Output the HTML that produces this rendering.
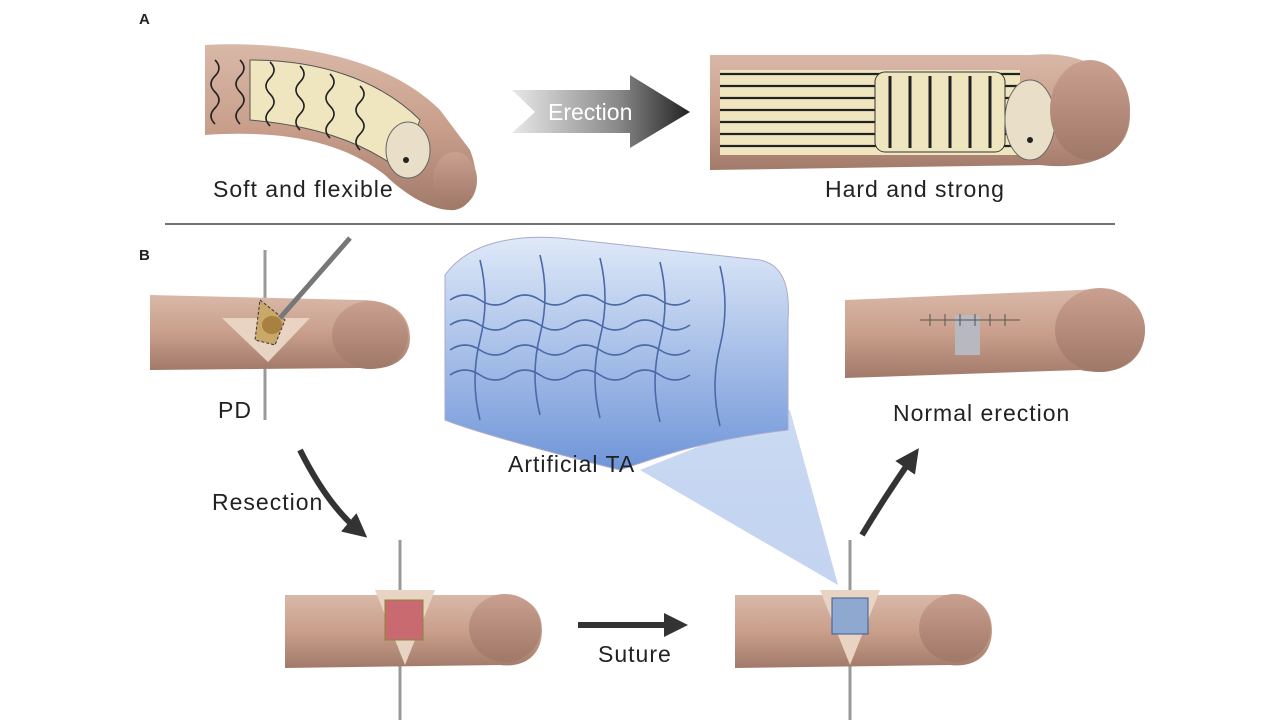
<!DOCTYPE html>
<html><head><meta charset="utf-8"><style>
html,body{margin:0;padding:0;background:#fff;}
svg{display:block;}
text{font-family:"Liberation Sans",sans-serif;fill:#222;}
.lb{font-size:23px;letter-spacing:1px;}
</style></head><body>
<svg width="1280" height="720" viewBox="0 0 1280 720" xmlns="http://www.w3.org/2000/svg">
<defs>
<linearGradient id="skin" x1="0" y1="0" x2="0" y2="1">
<stop offset="0" stop-color="#d9b8a8"/><stop offset="0.5" stop-color="#c99f8c"/><stop offset="1" stop-color="#a27a6a"/></linearGradient>
<linearGradient id="head" x1="0" y1="0" x2="0" y2="1">
<stop offset="0" stop-color="#caa090"/><stop offset="1" stop-color="#a07868"/></linearGradient>
<linearGradient id="arr" x1="0" y1="0" x2="1" y2="0">
<stop offset="0" stop-color="#e8e8e8"/><stop offset="0.6" stop-color="#888"/><stop offset="1" stop-color="#222"/></linearGradient>
<linearGradient id="blue" x1="0" y1="0" x2="0" y2="1">
<stop offset="0" stop-color="#dfe9f8"/><stop offset="1" stop-color="#6f95d8"/></linearGradient>
<linearGradient id="cone" x1="0" y1="0" x2="0" y2="1">
<stop offset="0" stop-color="#c8d8f2" stop-opacity="0.9"/><stop offset="1" stop-color="#9cb8e8" stop-opacity="0.6"/></linearGradient>
<marker id="ah" markerWidth="4" markerHeight="4" refX="2" refY="2" orient="auto"><path d="M0,0 L4,2 L0,4z" fill="#333"/></marker>
</defs>

<text x="139" y="24" font-size="15" font-weight="bold">A</text>
<text x="139" y="260" font-size="15" font-weight="bold">B</text>
<line x1="165" y1="224" x2="1115" y2="224" stroke="#444" stroke-width="1.5"/>

<path d="M205,45 C300,40 390,60 440,110 L470,150 C480,175 478,205 455,210 C430,212 400,190 385,175 C340,140 280,130 205,135 Z" fill="url(#skin)"/>
<path d="M250,60 C320,60 380,80 420,120 L400,170 C360,140 310,125 250,120 Z" fill="#efe6c0" stroke="#555" stroke-width="1"/>
<g stroke="#222" stroke-width="1.6" fill="none">
<path d="M215,60 q8,8 0,16 q-8,8 0,16 q8,8 0,16 q-8,8 0,16"/>
<path d="M240,60 q8,8 0,16 q-8,8 0,16 q8,8 0,16 q-8,8 0,16"/>
<path d="M270,62 q8,8 0,16 q-8,8 0,16 q8,8 0,16 q-8,8 0,16"/>
<path d="M300,66 q8,8 0,16 q-8,8 0,16 q8,8 0,16 q-8,8 0,16"/>
<path d="M330,74 q8,8 0,16 q-8,8 0,16 q8,8 0,16 q-8,8 0,16"/>
<path d="M360,86 q8,8 0,16 q-8,8 0,16 q8,8 0,16 q-8,8 0,16"/>
</g>
<ellipse cx="408" cy="150" rx="22" ry="28" fill="#e9dfc8" stroke="#666"/>
<circle cx="406" cy="160" r="3" fill="#222"/>
<ellipse cx="455" cy="180" rx="22" ry="28" fill="url(#head)"/>
<text x="213" y="197" class="lb">Soft and flexible</text>

<path d="M512,90 L630,90 L630,75 L690,112 L630,148 L630,133 L512,133 L535,112 Z" fill="url(#arr)"/>
<text x="548" y="120" font-size="23" style="fill:#fff">Erection</text>

<path d="M710,55 L1030,55 C1080,50 1120,70 1130,115 C1130,160 1080,170 1040,165 L710,170 Z" fill="url(#skin)"/>
<rect x="720" y="70" width="300" height="85" fill="#efe6c0"/>
<g stroke="#222" stroke-width="2.2">
<line x1="720" y1="74" x2="1020" y2="74"/><line x1="720" y1="86" x2="1020" y2="86"/>
<line x1="720" y1="98" x2="1020" y2="98"/><line x1="720" y1="110" x2="1020" y2="110"/>
<line x1="720" y1="122" x2="1020" y2="122"/><line x1="720" y1="134" x2="1020" y2="134"/>
<line x1="720" y1="146" x2="1020" y2="146"/>
</g>
<rect x="875" y="72" width="130" height="80" rx="10" fill="#efe6c0" stroke="#333"/>
<g stroke="#222" stroke-width="3">
<line x1="890" y1="76" x2="890" y2="148"/><line x1="910" y1="76" x2="910" y2="148"/><line x1="930" y1="76" x2="930" y2="148"/><line x1="950" y1="76" x2="950" y2="148"/><line x1="970" y1="76" x2="970" y2="148"/><line x1="990" y1="76" x2="990" y2="148"/></g>
<ellipse cx="1030" cy="120" rx="25" ry="40" fill="#e9dfc8" stroke="#666"/>
<circle cx="1030" cy="140" r="3" fill="#222"/>
<ellipse cx="1090" cy="110" rx="40" ry="50" fill="url(#head)"/>
<text x="825" y="197" class="lb">Hard and strong</text>

<line x1="265" y1="250" x2="265" y2="420" stroke="#999" stroke-width="3"/>
<path d="M150,295 L360,300 C400,300 410,320 410,338 C410,360 390,372 360,368 L150,370 Z" fill="url(#skin)"/>
<ellipse cx="370" cy="335" rx="38" ry="34" fill="url(#head)"/>
<path d="M222,318 L310,318 L268,362 Z" fill="#e9d4c4"/>
<path d="M260,300 L285,320 L275,345 L255,340 Z" fill="#c9a86a" stroke="#333" stroke-dasharray="3,2"/>
<ellipse cx="272" cy="325" rx="10" ry="9" fill="#a88040"/>
<line x1="280" y1="318" x2="350" y2="238" stroke="#777" stroke-width="5"/>
<text x="218" y="418" class="lb">PD</text>

<path d="M300,450 C320,490 340,515 358,530" stroke="#333" stroke-width="6" fill="none" marker-end="url(#ah)"/>
<text x="212" y="510" class="lb">Resection</text>

<line x1="400" y1="540" x2="400" y2="720" stroke="#999" stroke-width="3"/>
<path d="M285,595 L500,595 C535,595 542,615 542,630 C542,655 525,668 500,665 L285,668 Z" fill="url(#skin)"/>
<ellipse cx="505" cy="628" rx="36" ry="34" fill="url(#head)"/>
<path d="M375,590 L435,590 L405,665 Z" fill="#e9d4c4"/>
<rect x="385" y="600" width="38" height="40" fill="#c86a70" stroke="#883"/>
<text x="598" y="662" class="lb">Suture</text>
<path d="M578,625 L676,625" stroke="#333" stroke-width="6" marker-end="url(#ah)"/>

<path d="M640,470 L790,410 L838,585 Z" fill="url(#cone)"/>
<path d="M445,275 C470,240 520,235 560,238 L760,260 C785,265 790,290 788,320 L788,430 C700,440 650,460 620,470 C540,450 470,430 445,420 Z" fill="url(#blue)" stroke="#aac" />
<g stroke="#4a6aa8" stroke-width="1.6" fill="none">
<path d="M450,300 q15,-10 30,0 q15,10 30,0 q15,-10 30,0 q15,10 30,0 q15,-10 30,0 q15,10 30,0 q15,-10 30,0 q15,10 30,0"/>
<path d="M450,325 q15,-10 30,0 q15,10 30,0 q15,-10 30,0 q15,10 30,0 q15,-10 30,0 q15,10 30,0 q15,-10 30,0 q15,10 30,0"/>
<path d="M450,350 q15,-10 30,0 q15,10 30,0 q15,-10 30,0 q15,10 30,0 q15,-10 30,0 q15,10 30,0 q15,-10 30,0 q15,10 30,0"/>
<path d="M450,375 q15,-10 30,0 q15,10 30,0 q15,-10 30,0 q15,10 30,0 q15,-10 30,0 q15,10 30,0 q15,-10 30,0 q15,10 30,0"/>
<path d="M480,260 q10,40 0,80 q-10,40 0,80"/><path d="M540,255 q10,40 0,80 q-10,40 0,80"/>
<path d="M600,258 q10,40 0,80 q-10,40 0,80"/><path d="M660,262 q10,40 0,80 q-10,40 0,80"/>
<path d="M720,266 q10,40 0,80 q-10,40 0,80"/>
</g>
<text x="508" y="472" class="lb">Artificial TA</text>

<line x1="850" y1="540" x2="850" y2="720" stroke="#999" stroke-width="3"/>
<path d="M735,595 L950,595 C985,595 992,615 992,630 C992,655 975,668 950,665 L735,668 Z" fill="url(#skin)"/>
<ellipse cx="955" cy="628" rx="36" ry="34" fill="url(#head)"/>
<path d="M820,590 L880,590 L850,665 Z" fill="#e9d4c4"/>
<rect x="832" y="598" width="36" height="36" fill="#8fa8d0" stroke="#3a5a98"/>

<path d="M862,535 C880,505 898,478 912,458" stroke="#333" stroke-width="6" fill="none" marker-end="url(#ah)"/>

<path d="M845,300 L1080,290 C1130,285 1145,310 1145,330 C1145,360 1120,378 1080,370 L845,378 Z" fill="url(#skin)"/>
<ellipse cx="1100" cy="330" rx="45" ry="42" fill="url(#head)"/>
<rect x="955" y="315" width="25" height="40" fill="#b8b8c0"/>
<path d="M920,320 L1020,320" stroke="#555" stroke-width="1"/>
<g stroke="#555" stroke-width="1"><line x1="930" y1="314" x2="930" y2="326"/><line x1="945" y1="314" x2="945" y2="326"/><line x1="960" y1="314" x2="960" y2="326"/><line x1="975" y1="314" x2="975" y2="326"/><line x1="990" y1="314" x2="990" y2="326"/><line x1="1005" y1="314" x2="1005" y2="326"/></g>
<text x="893" y="421" class="lb">Normal erection</text>
</svg>
</body></html>
